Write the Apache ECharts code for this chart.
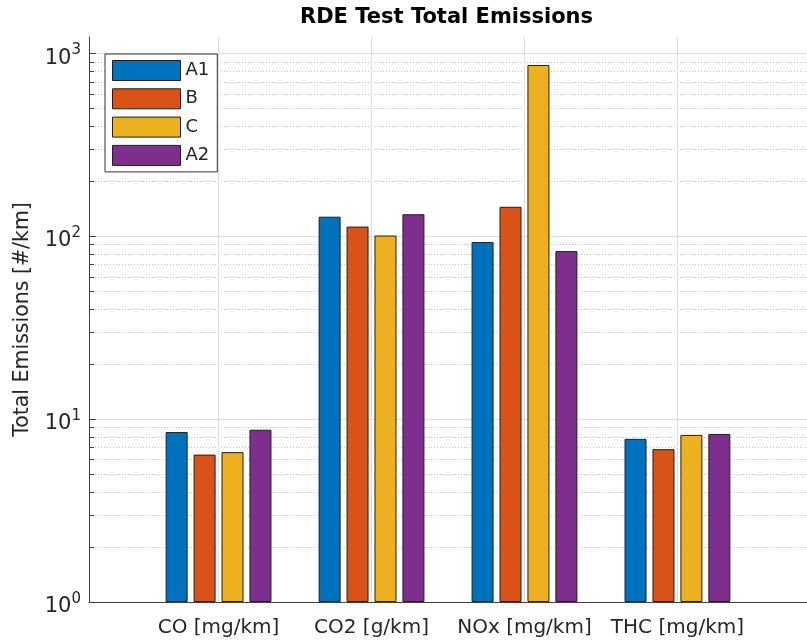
<!DOCTYPE html>
<html>
<head>
<meta charset="utf-8">
<script src="https://cdn.jsdelivr.net/npm/echarts@6/dist/echarts.min.js"></script>
<style>html,body{margin:0;padding:0;background:#fff}#chart{width:807px;height:641px}</style>
</head>
<body>
<div id="chart"></div>
<script>
// ---- data ----
const categories = ['CO [mg/km]', 'CO2 [g/km]', 'NOx [mg/km]', 'THC [mg/km]'];
const seriesNames = ['A1', 'B', 'C', 'A2'];
const A1 = [8.5, 128, 93, 7.8];
const B  = [6.4, 113, 145, 6.85];
const C  = [6.6, 101, 865, 8.2];
const A2 = [8.75, 132, 83, 8.3];
const yMajorTicks = [1, 10, 100, 1000];
const yMinorTicks = [2, 3, 4, 5, 6, 7, 8, 9, 20, 30, 40, 50, 60, 70, 80, 90, 200, 300, 400, 500, 600, 700, 800, 900];
const categoryPositions = [1, 2, 3, 4];

// ---- style / layout ----
const FONT = 'DejaVu Sans';
const colors = ['#0072BD', '#D95319', '#EDB120', '#7E2F8E'];
const axisColor = '#404040';
const textColor = '#262626';
const gridLeft = 89, gridTop = 37, gridWidth = 727.6, gridHeight = 565;
const xMin = 0.153, xMax = 4.847, yMin = 1, yMax = 1230;
const pxPerX = gridWidth / (xMax - xMin);

const seriesValues = [A1, B, C, A2];

const gridLines = [];
yMinorTicks.forEach(v => gridLines.push({ yAxis: v, lineStyle: { color: '#c4c4c4', width: 1, type: [1, 2] } }));
yMajorTicks.slice(1).forEach(v => gridLines.push({ yAxis: v, lineStyle: { color: '#dedede', width: 1, type: 'solid' } }));
categoryPositions.forEach(v => gridLines.push({ xAxis: v, lineStyle: { color: '#dedede', width: 1, type: 'solid' } }));

const tickLines = [];
yMinorTicks.forEach(v => tickLines.push([{ coord: [xMin, v], lineStyle: { color: axisColor, width: 1, type: 'solid' } }, { coord: [xMin + 5 / pxPerX, v] }]));
yMajorTicks.forEach(v => tickLines.push([{ coord: [xMin, v], lineStyle: { color: axisColor, width: 1, type: 'solid' } }, { coord: [xMin + 7 / pxPerX, v] }]));

const series = seriesNames.map((name, i) => ({
  name: name,
  type: 'bar',
  barWidth: 22,
  barGap: '27%',
  z: 3,
  data: seriesValues[i].map((v, j) => [categoryPositions[j], v]),
  itemStyle: { color: colors[i], borderColor: '#1f1f1f', borderWidth: 1 }
}));

series.push({
  type: 'line', data: [], silent: true, z: 1,
  markLine: { silent: true, z: 1, symbol: ['none', 'none'], label: { show: false }, animation: false, data: gridLines }
});
series.push({
  type: 'line', data: [], silent: true, z: 6,
  markLine: { silent: true, z: 6, symbol: ['none', 'none'], label: { show: false }, animation: false, data: tickLines }
});

const chart = echarts.init(document.getElementById('chart'), null, { renderer: 'canvas' });
chart.setOption({
  animation: false,
  backgroundColor: '#fff',
  title: {
    text: 'RDE Test Total Emissions', left: 300, top: 7, padding: 0,
    textStyle: { fontFamily: FONT, fontWeight: 'bold', fontSize: 21, color: '#000' }
  },
  legend: {
    data: seriesNames, orient: 'vertical', left: 105, top: 54, padding: [6, 8, 6, 7],
    itemWidth: 68, itemHeight: 20, itemGap: 7.3, icon: 'rect',
    borderColor: '#333', borderWidth: 1, backgroundColor: '#fff',
    itemStyle: { borderColor: '#1f1f1f', borderWidth: 1 },
    textStyle: { fontFamily: FONT, fontSize: 18, color: textColor }
  },
  grid: { left: gridLeft, top: gridTop, width: gridWidth, height: gridHeight, containLabel: false },
  xAxis: {
    type: 'value', min: xMin, max: xMax,
    axisLine: { show: true, lineStyle: { color: axisColor, width: 1 } },
    axisTick: { show: true, inside: true, length: 4, customValues: categoryPositions, lineStyle: { color: axisColor } },
    axisLabel: {
      customValues: categoryPositions, margin: 16,
      fontFamily: FONT, fontSize: 20, color: textColor,
      formatter: v => categories[Math.round(v) - 1] || ''
    },
    splitLine: { show: false }
  },
  yAxis: {
    type: 'log', logBase: 10, min: yMin, max: yMax,
    name: 'Total Emissions [#/km]', nameLocation: 'middle', nameGap: 56,
    nameTextStyle: { fontFamily: FONT, fontSize: 20.5, color: textColor },
    axisLine: { show: true, lineStyle: { color: axisColor, width: 1 } },
    axisTick: { show: false },
    splitLine: { show: false },
    minorTick: { show: false },
    axisLabel: {
      margin: 8, showMaxLabel: false,
      formatter: v => {
        const l = Math.log10(v);
        const e = Math.round(l);
        if (Math.abs(l - e) > 0.01) return '';
        return '{b|10}{e|' + e + '}';
      },
      rich: {
        b: { fontFamily: FONT, fontSize: 21, color: textColor, lineHeight: 30, padding: [9.4, 0, 0, 0] },
        e: { fontFamily: FONT, fontSize: 15, color: textColor, verticalAlign: 'top', padding: [4.5, 0, 0, 0] }
      }
    }
  },
  series: series
});
</script>
</body>
</html>
